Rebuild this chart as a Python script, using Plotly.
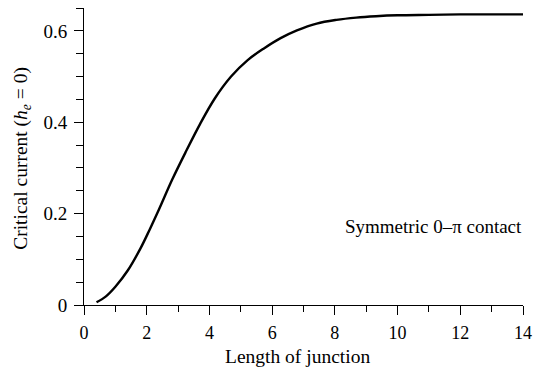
import plotly.graph_objects as go

# Critical current vs junction length (symmetric 0-pi contact)
length = [0.4, 0.7, 1.0, 1.4, 1.81, 2.1, 2.39, 2.81, 3.23, 3.7, 4.17, 4.69,
          5.22, 5.75, 6.27, 6.79, 7.42, 8.05, 8.68, 9.31, 10.0, 11.0, 12.0,
          13.0, 14.0]
current = [0.006, 0.019, 0.040, 0.076, 0.125, 0.166, 0.209, 0.274, 0.333,
           0.396, 0.452, 0.500, 0.536, 0.562, 0.584, 0.601, 0.616, 0.624,
           0.629, 0.632, 0.634, 0.635, 0.636, 0.636, 0.636]

x_ticks = [0, 2, 4, 6, 8, 10, 12, 14]
y_ticks = [0, 0.2, 0.4, 0.6]
y_tick_text = ["0", "0.2", "0.4", "0.6"]

FONT = "Liberation Serif, Times New Roman, serif"

fig = go.Figure()
fig.add_trace(go.Scatter(
    x=length, y=current, mode="lines",
    line=dict(color="black", width=2.4, shape="spline", smoothing=1.0),
    showlegend=False, hoverinfo="skip",
))

fig.add_annotation(
    x=11.13, y=0.171, xref="x", yref="y",
    text="Symmetric 0\u2013\u03c0 contact", showarrow=False,
    font=dict(family=FONT, size=19, color="black"),
)

# axis titles placed as annotations (pixel positions, converted below)
fig.add_annotation(
    x=300, y=356, xref="paper", yref="paper",
    text="Length of junction", showarrow=False,
)
fig.add_annotation(
    x=21, y=158, xref="paper", yref="paper",
    text="Critical current (<i>h</i><sub><i>e</i></sub> = 0)",
    textangle=-90, showarrow=False,
)

axis_common = dict(
    showgrid=False, zeroline=False, showline=True, linecolor="black",
    linewidth=1, ticks="outside", ticklen=9, tickwidth=1, tickcolor="black",
)

fig.update_xaxes(
    range=[0, 14], tickvals=x_ticks, ticklabelstandoff=2,
    tickfont=dict(family=FONT, size=18, color="black"),
    minor=dict(dtick=1, ticks="outside", ticklen=6, tickcolor="black", tickwidth=1),
    **axis_common,
)
fig.update_yaxes(
    range=[0, 0.65], tickvals=y_ticks, ticktext=y_tick_text, ticklabelstandoff=3,
    tickfont=dict(family=FONT, size=19, color="black"),
    minor=dict(dtick=0.05, ticks="outside", ticklen=7, tickcolor="black", tickwidth=1),
    **axis_common,
)

W, H = 540, 368
L, R, T, B = 84, 11, 8, 63
fig.update_layout(
    width=W, height=H,
    margin=dict(l=L, r=R, t=T, b=B),
    plot_bgcolor="white", paper_bgcolor="white",
)

# convert pixel positions of the title annotations into paper coordinates
pw, ph = W - L - R, H - T - B
for ann in fig.layout.annotations[1:]:
    px, py = ann.x, ann.y
    ann.x = (px - L) / pw
    ann.y = 1 - (py - T) / ph
    ann.xanchor = "center"
    ann.yanchor = "middle"
    ann.font = dict(family=FONT, size=19.5, color="black")

fig.write_html("out.html")
